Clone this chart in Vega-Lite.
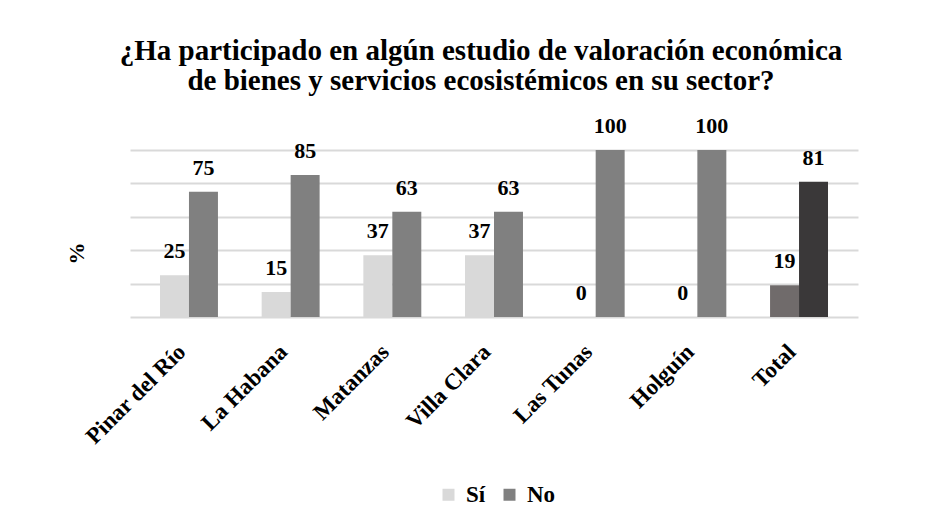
{
  "$schema": "https://vega.github.io/schema/vega-lite/v6.json",
  "width": 728,
  "height": 167,
  "autosize": "none",
  "padding": {"left": 130, "top": 150, "right": 80, "bottom": 210},
  "background": "white",
  "title": {
    "text": ["¿Ha participado en algún estudio de valoración económica", "de bienes y servicios ecosistémicos en su sector?"],
    "font": "Liberation Serif",
    "fontSize": 29,
    "fontWeight": "bold",
    "color": "#000000",
    "lineHeight": 30,
    "anchor": "middle",
    "dx": -13,
    "offset": 19
  },
  "data": {
    "values": [
      {"provincia": "Pinar del Río", "respuesta": "Sí", "serie": "Sí", "valor": 25},
      {"provincia": "Pinar del Río", "respuesta": "No", "serie": "No", "valor": 75},
      {"provincia": "La Habana", "respuesta": "Sí", "serie": "Sí", "valor": 15},
      {"provincia": "La Habana", "respuesta": "No", "serie": "No", "valor": 85},
      {"provincia": "Matanzas", "respuesta": "Sí", "serie": "Sí", "valor": 37},
      {"provincia": "Matanzas", "respuesta": "No", "serie": "No", "valor": 63},
      {"provincia": "Villa Clara", "respuesta": "Sí", "serie": "Sí", "valor": 37},
      {"provincia": "Villa Clara", "respuesta": "No", "serie": "No", "valor": 63},
      {"provincia": "Las Tunas", "respuesta": "Sí", "serie": "Sí", "valor": 0},
      {"provincia": "Las Tunas", "respuesta": "No", "serie": "No", "valor": 100},
      {"provincia": "Holguín", "respuesta": "Sí", "serie": "Sí", "valor": 0},
      {"provincia": "Holguín", "respuesta": "No", "serie": "No", "valor": 100},
      {"provincia": "Total", "respuesta": "Sí", "serie": "Sí total", "valor": 19},
      {"provincia": "Total", "respuesta": "No", "serie": "No total", "valor": 81}
    ]
  },
  "encoding": {
    "x": {
      "field": "provincia",
      "type": "nominal",
      "sort": null,
      "scale": {"paddingInner": 0.43, "paddingOuter": 0.295},
      "axis": {
        "title": null,
        "labelAngle": -45,
        "labelAlign": "right",
        "labelBaseline": "middle",
        "labelFont": "Liberation Serif",
        "labelFontSize": 23,
        "labelFontWeight": "bold",
        "labelColor": "#000000",
        "labelPadding": 31,
        "labelOffset": -7,
        "labelLimit": 0,
        "ticks": false,
        "domain": false,
        "grid": false
      }
    },
    "xOffset": {"field": "respuesta", "type": "nominal", "sort": ["Sí", "No"], "scale": {"paddingInner": 0}},
    "y": {
      "field": "valor",
      "type": "quantitative",
      "scale": {"domain": [0, 100], "nice": false},
      "axis": {
        "title": "%",
        "titleFont": "Liberation Serif",
        "titleFontSize": 22,
        "titleFontWeight": "bold",
        "titleColor": "#000000",
        "titleX": -42,
        "titleY": 103,
        "titleAngle": -90,
        "titleAlign": "center",
        "titleBaseline": "bottom",
        "values": [0, 20, 40, 60, 80, 100],
        "labels": false,
        "ticks": false,
        "domain": false,
        "grid": true,
        "gridColor": "#d9d9d9",
        "gridWidth": 2
      }
    }
  },
  "layer": [
    {
      "mark": {"type": "bar"},
      "encoding": {
        "color": {
          "field": "serie",
          "type": "nominal",
          "scale": {
            "domain": ["Sí", "No", "Sí total", "No total"],
            "range": ["#d9d9d9", "#808080", "#706b6b", "#3a3839"]
          },
          "legend": {
            "values": ["Sí", "No"],
            "title": null,
            "orient": "none",
            "direction": "horizontal",
            "legendX": 307,
            "legendY": 333,
            "symbolType": "square",
            "symbolSize": 144,
            "symbolStrokeWidth": 0,
            "labelFont": "Liberation Serif",
            "labelFontSize": 23,
            "labelFontWeight": "bold",
            "labelColor": "#000000",
            "columnPadding": 12,
            "labelOffset": 6
          }
        }
      }
    },
    {
      "mark": {
        "type": "text",
        "baseline": "alphabetic",
        "dy": -17,
        "font": "Liberation Serif",
        "fontSize": 22,
        "fontWeight": "bold",
        "color": "#000000"
      },
      "encoding": {"text": {"field": "valor", "type": "quantitative"}}
    }
  ],
  "config": {"view": {"stroke": null}}
}
